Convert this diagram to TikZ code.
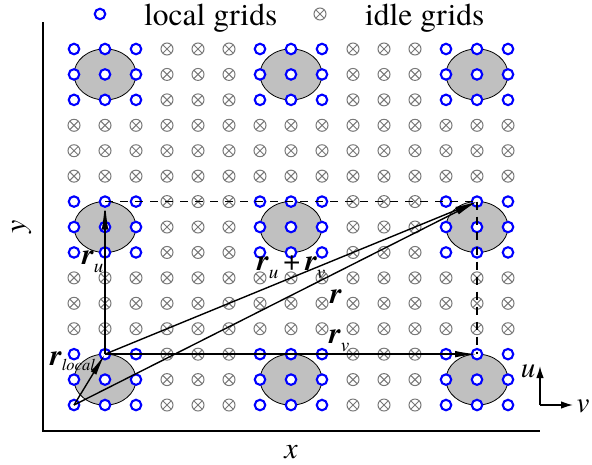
\documentclass[tikz,border=0pt]{standalone}
\usepackage{fontspec}
\setmainfont{TeX Gyre Termes}
\usetikzlibrary{arrows.meta}
\definecolor{locblue}{RGB}{0,0,255}
\definecolor{idlegray}{RGB}{120,120,120}
\definecolor{blobgray}{RGB}{192,192,192}
\newcommand\myvr{{\bfseries\itshape r}}
\newcommand\mysub[1]{\raisebox{-8pt}{\fontsize{19}{19}\selectfont\itshape #1}}
\tikzset{
  locmark/.style={circle, draw=locblue, fill=white, line width=2.1pt, minimum size=10.5pt, inner sep=0pt},
  idlemark/.style={circle, draw=idlegray, line width=1pt, minimum size=12pt, inner sep=0pt,
    path picture={\draw[idlegray, line width=1pt]
      (path picture bounding box.south west) -- (path picture bounding box.north east)
      (path picture bounding box.north west) -- (path picture bounding box.south east);}},
  blob/.style={draw=black, line width=0.8pt, fill=blobgray},
  vec/.style={line width=1.4pt, -{Latex[length=22pt, width=6.5pt]}},
  dashline/.style={line width=1.8pt, draw=black, dash pattern=on 8pt off 7pt},
  axisline/.style={line width=2pt},
  uvarrow/.style={line width=1.4pt, -{Latex[length=12pt, width=7.5pt]}},
  lbl/.style={inner sep=0pt, font=\fontsize{30}{30}\selectfont},
  legendtxt/.style={inner sep=0pt, font=\fontsize{31.5}{31.5}\selectfont},
}
\begin{document}
\begin{tikzpicture}[x=1pt, y=-1pt]
\useasboundingbox (0,0) rectangle (592,464);
% grid coordinates
\foreach \i in {0,...,14} {
  \foreach \j in {0,...,14} {
    \coordinate (p-\i-\j) at ({74+31*\i},{49+25.43*\j});
  }
}
% grey blobs
\foreach \i in {1,7,13} {
  \foreach \j in {1,7,13} {
    \draw[blob] (p-\i-\j) ellipse [x radius=31pt, y radius=25.5pt];
  }
}
% markers
\foreach \i in {0,...,14} {
  \foreach \j in {0,...,14} {
    \pgfmathtruncatemacro\isloc{and(mod(\i,6)<3, mod(\j,6)<3)}
    \ifnum\isloc=1
      \node[locmark] (m-\i-\j) at (p-\i-\j) {};
    \else
      \node[idlemark] (m-\i-\j) at (p-\i-\j) {};
    \fi
  }
}
% legend
\node[locmark] (legloc) at (100,14) {};
\node[legendtxt, anchor=base west] (legloctxt) at (144,25) {local grids};
\node[idlemark] (legidle) at (320,14) {};
\node[legendtxt, anchor=base west] (legidletxt) at (365,25) {idle grids};
% axes
\coordinate (axtop) at (43,22);
\coordinate (axorig) at (43,431);
\coordinate (axright) at (540,431);
\draw[axisline] (axtop) -- (axorig) -- (axright);
\node[lbl, font=\fontsize{30}{30}\selectfont\itshape, anchor=base] (xlab) at (291,458) {x};
\node[lbl, font=\fontsize{30}{30}\selectfont\itshape, rotate=90] (ylab) at (22,227) {y};
% dashed
\draw[dashline] (m-1-6.center) -- (m-13-6.center);
\draw[dashline] (m-13-6.center) -- (m-13-12.center);
% vectors
\draw[vec] (m-0-14.center) -- (m-1-12.center);
\draw[vec, -{Latex[length=28pt, width=6.5pt]}] (m-1-12.center) -- (m-1-6.center);
\draw[vec] (m-1-12.center) -- (m-13-12.center);
\draw[vec] (m-0-14.center) -- (m-13-6.center);
\draw[vec] (m-1-12.center) -- (m-13-6.center);
% vector labels
\node[lbl, anchor=base west] (lru) at (82,264) {\myvr\mysub{u}};
\node[lbl, anchor=base west] (lrurv) at (257,270) {\myvr\mysub{u}\,+\,\myvr\mysub{v}};
\node[lbl, anchor=base west] (lr) at (330,303) {\myvr};
\node[lbl, anchor=base west] (lrv) at (329,343) {\myvr\mysub{v}};
\node[lbl, anchor=base west] (lrl) at (50,365) {\myvr\raisebox{-5pt}{\fontsize{16.5}{16.5}\selectfont\itshape local}};
% u-v frame
\coordinate (uvo) at (540,405);
\coordinate (uvu) at (540,366);
\coordinate (uvv) at (573,405);
\draw[uvarrow] (uvo) -- (uvu);
\draw[uvarrow] (uvo) -- (uvv);
\node[lbl, font=\fontsize{29}{29}\selectfont\itshape, anchor=base] (ulab) at (528,377) {u};
\node[lbl, font=\fontsize{29}{29}\selectfont\itshape, anchor=base] (vlab) at (583,412) {v};
\end{tikzpicture}
\end{document}
